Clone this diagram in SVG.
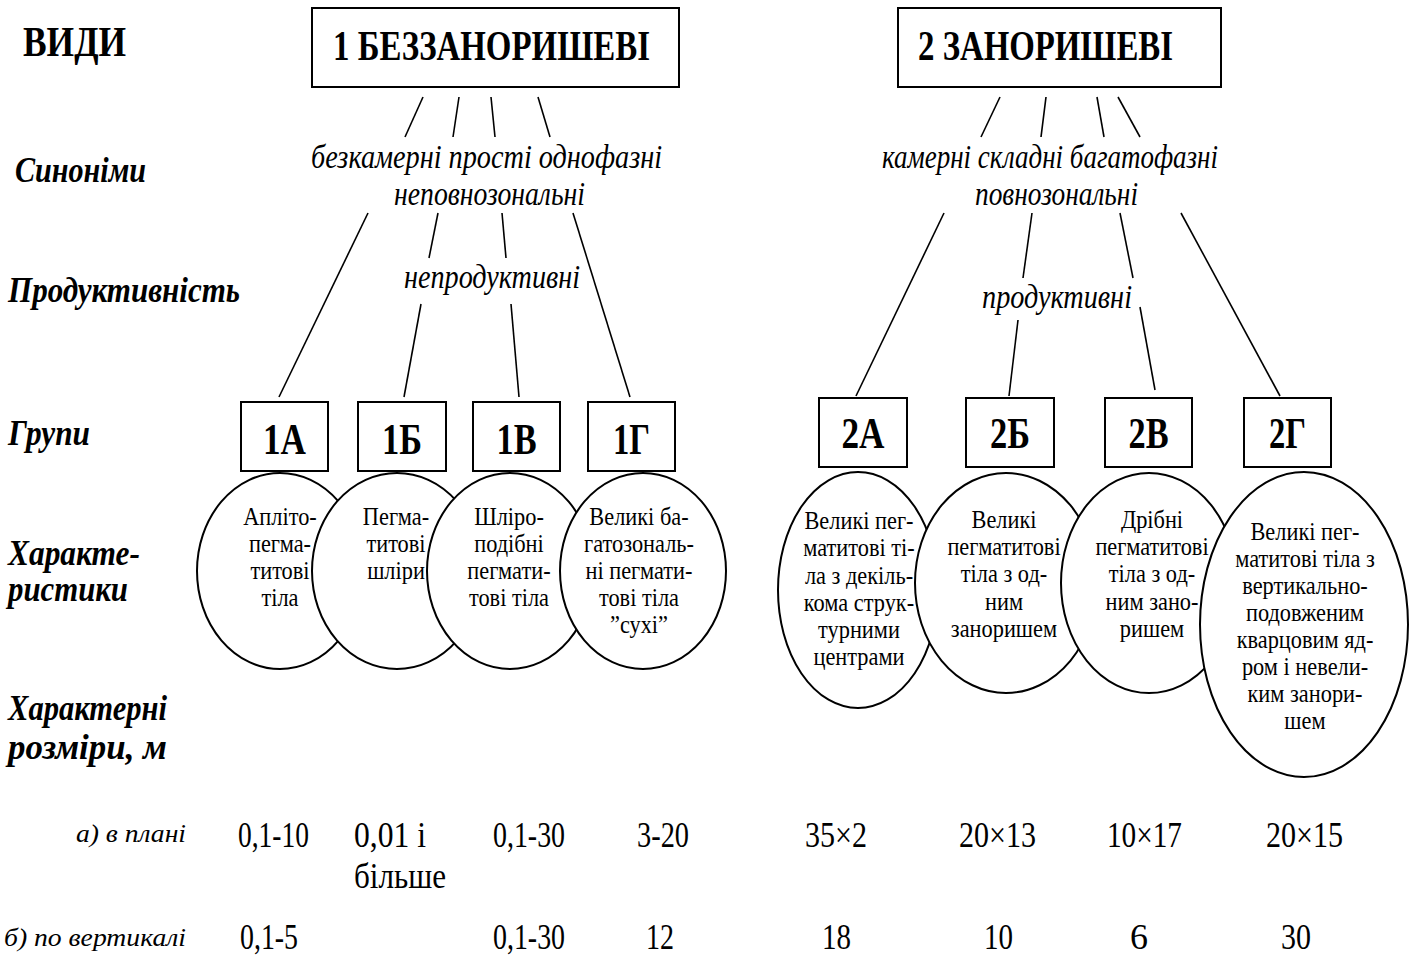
<svg xmlns="http://www.w3.org/2000/svg" width="1410" height="959" viewBox="0 0 1410 959">
<style>
 text { font-family: "Liberation Serif", "Times New Roman", serif; fill: #000; }
 .hdr { font-weight: bold; font-size: 42px; }
 .lbl { font-weight: bold; font-style: italic; font-size: 35px; }
 .syn { font-style: italic; font-size: 34px; }
 .grp { font-weight: bold; font-size: 44px; text-anchor: middle; }
 .el { font-size: 26px; text-anchor: middle; }
 .num { font-size: 35px; }
 .sub { font-style: italic; font-size: 25px; }
 .box { fill: #fff; stroke: #000; stroke-width: 2; }
 .ell { fill: #fff; stroke: #000; stroke-width: 2; }
 #connectors line { stroke: #000; stroke-width: 1.6; }
</style>
<rect x="0" y="0" width="1410" height="959" fill="#fff"/>

<g id="row-labels">
 <text class="hdr" x="23" y="56" textLength="103" lengthAdjust="spacingAndGlyphs">ВИДИ</text>
 <text class="lbl" x="15" y="182" textLength="131" lengthAdjust="spacingAndGlyphs">Синоніми</text>
 <text class="lbl" x="8" y="302" textLength="232" lengthAdjust="spacingAndGlyphs">Продуктивність</text>
 <text class="lbl" x="8" y="445" textLength="82" lengthAdjust="spacingAndGlyphs">Групи</text>
 <text class="lbl" x="8" y="565" textLength="132" lengthAdjust="spacingAndGlyphs">Характе-</text>
 <text class="lbl" x="8" y="601" textLength="120" lengthAdjust="spacingAndGlyphs">ристики</text>
 <text class="lbl" x="8" y="720" textLength="159" lengthAdjust="spacingAndGlyphs">Характерні</text>
 <text class="lbl" x="8" y="759" textLength="159" lengthAdjust="spacingAndGlyphs">розміри, м</text>
 <text class="sub" x="76" y="842" textLength="110" lengthAdjust="spacingAndGlyphs">а) в плані</text>
 <text class="sub" x="4" y="946" textLength="182" lengthAdjust="spacingAndGlyphs">б) по вертикалі</text>
</g>

<g id="connectors">
 <line x1="423" y1="97" x2="405" y2="137"/>
 <line x1="459" y1="97" x2="453" y2="137"/>
 <line x1="491" y1="97" x2="495" y2="137"/>
 <line x1="538" y1="97" x2="550" y2="137"/>
 <line x1="1000" y1="97" x2="981" y2="137"/>
 <line x1="1046" y1="97" x2="1041" y2="137"/>
 <line x1="1097" y1="97" x2="1104" y2="137"/>
 <line x1="1118" y1="97" x2="1140" y2="137"/>
 <line x1="368" y1="213" x2="279" y2="397"/>
 <line x1="438" y1="213" x2="429" y2="258"/>
 <line x1="421" y1="304" x2="404" y2="397"/>
 <line x1="502" y1="213" x2="506" y2="258"/>
 <line x1="511" y1="304" x2="519" y2="397"/>
 <line x1="573" y1="213" x2="630" y2="397"/>
 <line x1="944" y1="213" x2="856" y2="396"/>
 <line x1="1032" y1="213" x2="1023" y2="278"/>
 <line x1="1018" y1="320" x2="1009" y2="396"/>
 <line x1="1120" y1="213" x2="1133" y2="278"/>
 <line x1="1140" y1="307" x2="1155" y2="390"/>
 <line x1="1181" y1="213" x2="1280" y2="396"/>
</g>

<g id="type1">
 <rect class="box" x="312" y="8" width="367" height="79"/>
 <text class="hdr" x="333" y="60" textLength="317" lengthAdjust="spacingAndGlyphs">1 БЕЗЗАНОРИШЕВІ</text>
</g>
<g id="type2">
 <rect class="box" x="898" y="8" width="323" height="79"/>
 <text class="hdr" x="918" y="60" textLength="255" lengthAdjust="spacingAndGlyphs">2 ЗАНОРИШЕВІ</text>
</g>

<g id="syn1">
 <text class="syn" x="311" y="168" textLength="351" lengthAdjust="spacingAndGlyphs">безкамерні прості однофазні</text>
 <text class="syn" x="394" y="205" textLength="191" lengthAdjust="spacingAndGlyphs">неповнозональні</text>
</g>
<g id="syn2">
 <text class="syn" x="882" y="168" textLength="336" lengthAdjust="spacingAndGlyphs">камерні складні багатофазні</text>
 <text class="syn" x="975" y="205" textLength="163" lengthAdjust="spacingAndGlyphs">повнозональні</text>
</g>
<g id="prod1">
 <text class="syn" x="404" y="288" textLength="176" lengthAdjust="spacingAndGlyphs">непродуктивні</text>
</g>
<g id="prod2">
 <text class="syn" x="982" y="308" textLength="150" lengthAdjust="spacingAndGlyphs">продуктивні</text>
</g>

<g id="g1A">
 <rect class="box" x="241" y="402" width="87" height="69"/>
 <text class="grp" x="284.5" y="454" textLength="43" lengthAdjust="spacingAndGlyphs">1А</text>
</g>
<g id="g1B">
 <rect class="box" x="358" y="402" width="88" height="69"/>
 <text class="grp" x="402" y="454" textLength="40" lengthAdjust="spacingAndGlyphs">1Б</text>
</g>
<g id="g1V">
 <rect class="box" x="473" y="402" width="87" height="69"/>
 <text class="grp" x="516.5" y="454" textLength="40" lengthAdjust="spacingAndGlyphs">1В</text>
</g>
<g id="g1G">
 <rect class="box" x="588" y="402" width="87" height="69"/>
 <text class="grp" x="631.5" y="454" textLength="37" lengthAdjust="spacingAndGlyphs">1Г</text>
</g>
<g id="g2A">
 <rect class="box" x="819" y="398" width="88" height="69"/>
 <text class="grp" x="863" y="448" textLength="43" lengthAdjust="spacingAndGlyphs">2А</text>
</g>
<g id="g2B">
 <rect class="box" x="966" y="398" width="88" height="69"/>
 <text class="grp" x="1010" y="448" textLength="40" lengthAdjust="spacingAndGlyphs">2Б</text>
</g>
<g id="g2V">
 <rect class="box" x="1105" y="398" width="87" height="69"/>
 <text class="grp" x="1148.5" y="448" textLength="40" lengthAdjust="spacingAndGlyphs">2В</text>
</g>
<g id="g2G">
 <rect class="box" x="1244" y="398" width="87" height="69"/>
 <text class="grp" x="1287.5" y="448" textLength="37" lengthAdjust="spacingAndGlyphs">2Г</text>
</g>

<g id="e1A">
 <ellipse class="ell" cx="280" cy="571" rx="83" ry="98"/>
 <g transform="translate(280 0) scale(0.86 1) translate(-280 0)">
  <text class="el" x="280" y="525">Апліто-</text>
  <text class="el" x="280" y="552">пегма-</text>
  <text class="el" x="280" y="579">титові</text>
  <text class="el" x="280" y="606">тіла</text>
 </g>
</g>
<g id="e1B">
 <ellipse class="ell" cx="397" cy="571" rx="85" ry="98"/>
 <g transform="translate(396 0) scale(0.86 1) translate(-396 0)">
  <text class="el" x="396" y="525">Пегма-</text>
  <text class="el" x="396" y="552">титові</text>
  <text class="el" x="396" y="579">шліри</text>
 </g>
</g>
<g id="e1V">
 <ellipse class="ell" cx="510" cy="571" rx="83" ry="98"/>
 <g transform="translate(509 0) scale(0.86 1) translate(-509 0)">
  <text class="el" x="509" y="525">Шліро-</text>
  <text class="el" x="509" y="552">подібні</text>
  <text class="el" x="509" y="579">пегмати-</text>
  <text class="el" x="509" y="606">тові тіла</text>
 </g>
</g>
<g id="e1G">
 <ellipse class="ell" cx="643" cy="571" rx="83" ry="98"/>
 <g transform="translate(639 0) scale(0.86 1) translate(-639 0)">
  <text class="el" x="639" y="525">Великі ба-</text>
  <text class="el" x="639" y="552">гатозональ-</text>
  <text class="el" x="639" y="579">ні пегмати-</text>
  <text class="el" x="639" y="606">тові тіла</text>
  <text class="el" x="639" y="633">”сухі”</text>
 </g>
</g>

<g id="e2A">
 <ellipse class="ell" cx="858" cy="590" rx="80" ry="118"/>
 <g transform="translate(859 0) scale(0.86 1) translate(-859 0)">
  <text class="el" x="859" y="529">Великі пег-</text>
  <text class="el" x="859" y="556">матитові ті-</text>
  <text class="el" x="859" y="584">ла з декіль-</text>
  <text class="el" x="859" y="611">кома струк-</text>
  <text class="el" x="859" y="638">турними</text>
  <text class="el" x="859" y="665">центрами</text>
 </g>
</g>
<g id="e2B">
 <ellipse class="ell" cx="1006" cy="583" rx="91" ry="110"/>
 <g transform="translate(1004 0) scale(0.86 1) translate(-1004 0)">
  <text class="el" x="1004" y="528">Великі</text>
  <text class="el" x="1004" y="555">пегматитові</text>
  <text class="el" x="1004" y="582">тіла з од-</text>
  <text class="el" x="1004" y="610">ним</text>
  <text class="el" x="1004" y="637">заноришем</text>
 </g>
</g>
<g id="e2V">
 <ellipse class="ell" cx="1149" cy="583" rx="88" ry="110"/>
 <g transform="translate(1152 0) scale(0.86 1) translate(-1152 0)">
  <text class="el" x="1152" y="528">Дрібні</text>
  <text class="el" x="1152" y="555">пегматитові</text>
  <text class="el" x="1152" y="582">тіла з од-</text>
  <text class="el" x="1152" y="610">ним зано-</text>
  <text class="el" x="1152" y="637">ришем</text>
 </g>
</g>
<g id="e2G">
 <ellipse class="ell" cx="1304" cy="624.5" rx="104" ry="152.5"/>
 <g transform="translate(1305 0) scale(0.86 1) translate(-1305 0)">
  <text class="el" x="1305" y="540">Великі пег-</text>
  <text class="el" x="1305" y="567">матитові тіла з</text>
  <text class="el" x="1305" y="594">вертикально-</text>
  <text class="el" x="1305" y="621">подовженим</text>
  <text class="el" x="1305" y="648">кварцовим яд-</text>
  <text class="el" x="1305" y="675">ром і невели-</text>
  <text class="el" x="1305" y="702">ким занори-</text>
  <text class="el" x="1305" y="729">шем</text>
 </g>
</g>

<g id="sizes">
 <text class="num" x="238" y="847" textLength="71" lengthAdjust="spacingAndGlyphs">0,1-10</text>
 <text class="num" x="354" y="847" textLength="72" lengthAdjust="spacingAndGlyphs">0,01 і</text>
 <text class="num" x="354" y="888" textLength="92" lengthAdjust="spacingAndGlyphs">більше</text>
 <text class="num" x="493" y="847" textLength="72" lengthAdjust="spacingAndGlyphs">0,1-30</text>
 <text class="num" x="637" y="847" textLength="52" lengthAdjust="spacingAndGlyphs">3-20</text>
 <text class="num" x="805" y="847" textLength="62" lengthAdjust="spacingAndGlyphs">35×2</text>
 <text class="num" x="959" y="847" textLength="77" lengthAdjust="spacingAndGlyphs">20×13</text>
 <text class="num" x="1107" y="847" textLength="75" lengthAdjust="spacingAndGlyphs">10×17</text>
 <text class="num" x="1266" y="847" textLength="77" lengthAdjust="spacingAndGlyphs">20×15</text>
 <text class="num" x="240" y="949" textLength="58" lengthAdjust="spacingAndGlyphs">0,1-5</text>
 <text class="num" x="493" y="949" textLength="72" lengthAdjust="spacingAndGlyphs">0,1-30</text>
 <text class="num" x="646" y="949" textLength="28" lengthAdjust="spacingAndGlyphs">12</text>
 <text class="num" x="822" y="949" textLength="29" lengthAdjust="spacingAndGlyphs">18</text>
 <text class="num" x="984" y="949" textLength="29" lengthAdjust="spacingAndGlyphs">10</text>
 <text class="num" x="1130" y="949" textLength="18" lengthAdjust="spacingAndGlyphs">6</text>
 <text class="num" x="1281" y="949" textLength="30" lengthAdjust="spacingAndGlyphs">30</text>
</g>
</svg>
